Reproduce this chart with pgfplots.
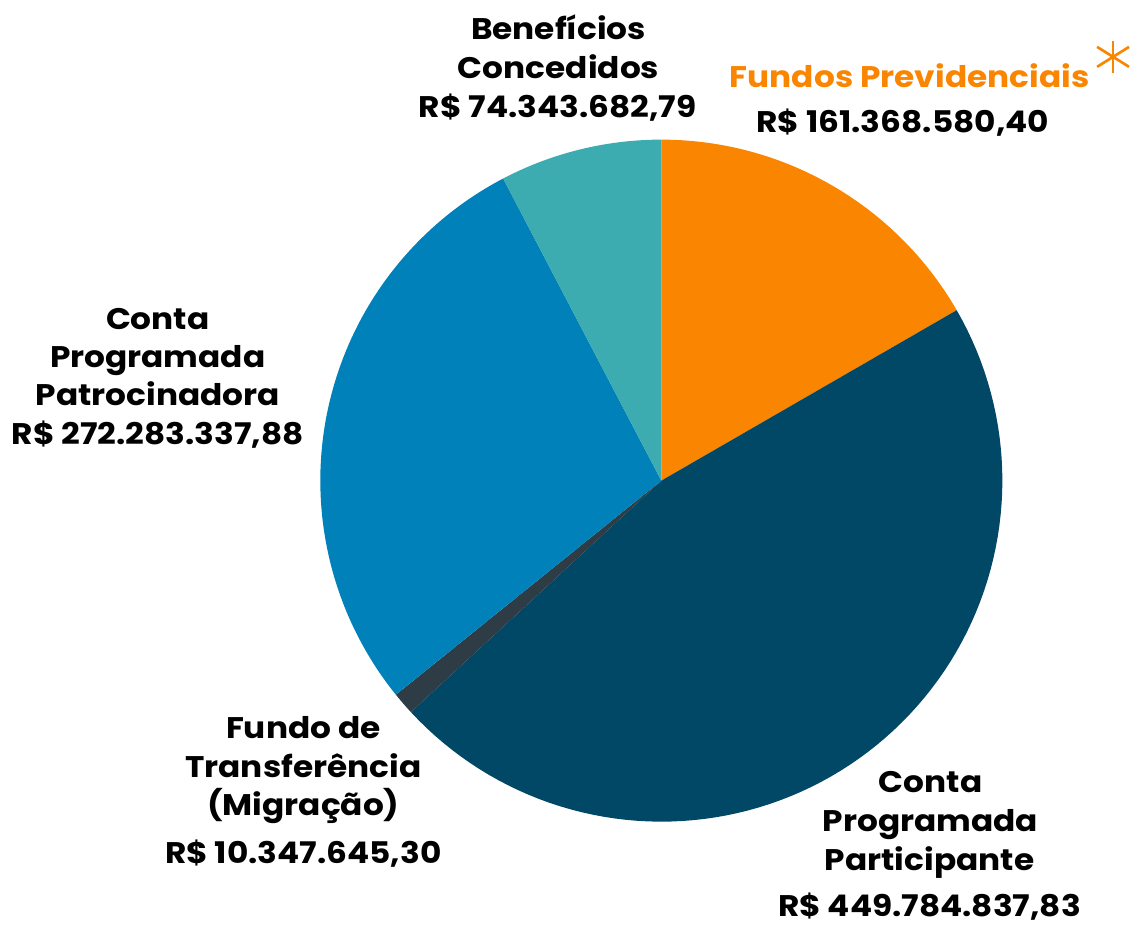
\documentclass[border=0pt]{standalone}
\usepackage{pgfplots}
\pgfplotsset{compat=1.18}
\usepackage{fontspec}
\setmainfont{Poppins}[FakeStretch=1.1]
\definecolor{cFP}{HTML}{FA8500}
\definecolor{cCPP}{HTML}{014766}
\definecolor{cFT}{HTML}{2E3C45}
\definecolor{cCPPat}{HTML}{0081B9}
\definecolor{cBC}{HTML}{3DACB0}
% values in millions of R$
\def\vFP{161.36858040}
\def\vCPP{449.78483783}
\def\vFT{10.34764530}
\def\vCPPat{272.28333788}
\def\vBC{74.34368279}
\pgfmathsetmacro\total{\vFP+\vCPP+\vFT+\vCPPat+\vBC}
\pgfmathsetmacro\aA{90}
\pgfmathsetmacro\aB{\aA-360*(\vFP/\total)}
\pgfmathsetmacro\aC{\aB-360*(\vCPP/\total)}
\pgfmathsetmacro\aD{\aC-360*(\vFT/\total)}
\pgfmathsetmacro\aE{\aD-360*(\vCPPat/\total)}
\pgfmathsetmacro\aF{\aE-360*(\vBC/\total)}
\newcommand{\lbl}{\fontsize{8.5}{10}\selectfont\bfseries}
\begin{document}
\begin{tikzpicture}
\begin{axis}[
  width=11.35cm, height=9.2cm, scale only axis,
  xmin=0, xmax=1135, ymin=0, ymax=920, y dir=reverse,
  hide axis, clip=false,
  samples=90,
]
\path (axis cs:0,0) rectangle (axis cs:1135,920);
\addplot[fill=cFP, draw=none, domain=\aB:\aA, variable=\t] ({660+342*cos(\t)},{482-342*sin(\t)}) -- (axis cs:660,482) -- cycle;
\addplot[fill=cCPP, draw=none, domain=\aC:\aB, variable=\t] ({660+342*cos(\t)},{482-342*sin(\t)}) -- (axis cs:660,482) -- cycle;
\addplot[fill=cFT, draw=none, domain=\aD:\aC, variable=\t, samples=10] ({660+342*cos(\t)},{482-342*sin(\t)}) -- (axis cs:660,482) -- cycle;
\addplot[fill=cCPPat, draw=none, domain=\aE:\aD, variable=\t] ({660+342*cos(\t)},{482-342*sin(\t)}) -- (axis cs:660,482) -- cycle;
\addplot[fill=cBC, draw=none, domain=\aF:\aE, variable=\t] ({660+342*cos(\t)},{482-342*sin(\t)}) -- (axis cs:660,482) -- cycle;
% labels
\node[anchor=base, font=\lbl] at (axis cs:557,40) {Benefícios};
\node[anchor=base, font=\lbl] at (axis cs:557,79) {Concedidos};
\node[anchor=base, font=\lbl] at (axis cs:556,118) {R\$ 74.343.682,79};
\node[anchor=base, font=\lbl, text=cFP] at (axis cs:909,88) {Fundos Previdenciais};
\node[anchor=base, font=\lbl] at (axis cs:902,133) {R\$ 161.368.580,40};
\node[anchor=base, font=\lbl] at (axis cs:155,330) {Conta};
\node[anchor=base, font=\lbl] at (axis cs:155,369) {Programada};
\node[anchor=base, font=\lbl] at (axis cs:155,407) {Patrocinadora};
\node[anchor=base, font=\lbl] at (axis cs:155,446) {R\$ 272.283.337,88};
\node[anchor=base, font=\lbl] at (axis cs:301,741) {Fundo de};
\node[anchor=base, font=\lbl] at (axis cs:301,780) {Transferência};
\node[anchor=base, font=\lbl] at (axis cs:301,818) {(Migração)};
\node[anchor=base, font=\lbl] at (axis cs:301,866) {R\$ 10.347.645,30};
\node[anchor=base, font=\lbl] at (axis cs:930,795) {Conta};
\node[anchor=base, font=\lbl] at (axis cs:930,834) {Programada};
\node[anchor=base, font=\lbl] at (axis cs:929,873) {Participante};
\node[anchor=base, font=\lbl] at (axis cs:929,919) {R\$ 449.784.837,83};
% asterisk
\draw[cFP, line width=0.75pt] (axis cs:1113,41) -- (axis cs:1113,73);
\draw[cFP, line width=0.75pt] (axis cs:1097,67) -- (axis cs:1129,47);
\draw[cFP, line width=0.75pt] (axis cs:1097,47) -- (axis cs:1129,67);
\end{axis}
\end{tikzpicture}
\end{document}
